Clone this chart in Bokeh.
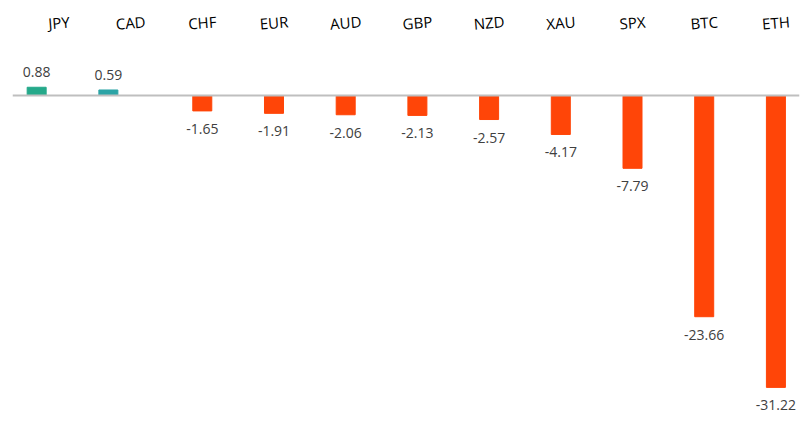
from bokeh.plotting import figure
from bokeh.models import ColumnDataSource, Span
from bokeh.core.properties import value
from bokeh.embed import file_html
from bokeh.resources import INLINE

categories = ["JPY", "CAD", "CHF", "EUR", "AUD", "GBP", "NZD", "XAU", "SPX", "BTC", "ETH"]
changes = [0.88, 0.59, -1.65, -1.91, -2.06, -2.13, -2.57, -4.17, -7.79, -23.66, -31.22]

FONT = "Open Sans"
pos_colors = {"JPY": "#25a98a", "CAD": "#2ca4a6"}
neg_color = "#ff4508"

Y_MIN, Y_MAX = -34.12, 10.16

idx = list(range(len(categories)))
pos = [i for i in idx if changes[i] >= 0]
neg = [i for i in idx if changes[i] < 0]

pos_src = ColumnDataSource(dict(
    x=[i - 0.31 for i in pos],
    top=[changes[i] for i in pos],
    color=[pos_colors[categories[i]] for i in pos],
    label=["%.2f" % changes[i] for i in pos],
))
neg_src = ColumnDataSource(dict(
    x=[i for i in neg],
    top=[changes[i] for i in neg],
    label=["%.2f" % changes[i] for i in neg],
))
cat_src = ColumnDataSource(dict(
    x=idx,
    y=[Y_MAX] * len(idx),
    name=categories,
))

p = figure(width=801, height=414, output_backend="svg", toolbar_location=None,
           x_range=(-0.647, 10.329), y_range=(Y_MIN, Y_MAX),
           x_axis_location=None, y_axis_location=None,
           min_border_left=12, min_border_right=2, min_border_top=0, min_border_bottom=0)
p.outline_line_color = None
p.xgrid.visible = False
p.ygrid.visible = False
p.background_fill_color = "white"
p.border_fill_color = "white"

p.vbar(x="x", top="top", bottom=0, width=0.265, color="color", source=pos_src)
p.vbar(x="x", top="top", bottom=0, width=0.265, color=neg_color, source=neg_src)

p.add_layout(Span(location=0, dimension="width", line_color="#bfbfbf", line_width=2))

p.text(x="x", y="top", text="label", source=pos_src, text_align="center",
       text_baseline="middle", y_offset=-15, text_font=value(FONT),
       text_font_size="14px", text_color="#404040")
p.text(x="x", y="top", text="label", source=neg_src, text_align="center",
       text_baseline="middle", y_offset=18, text_font=value(FONT),
       text_font_size="14px", text_color="#404040")

p.text(x="x", y="y", text="name", source=cat_src, angle=0.08,
       text_align="center", text_baseline="middle", y_offset=22,
       text_font=value(FONT), text_font_size="15px", text_color="#000000")

open("out.html", "w").write(file_html(p, INLINE))
